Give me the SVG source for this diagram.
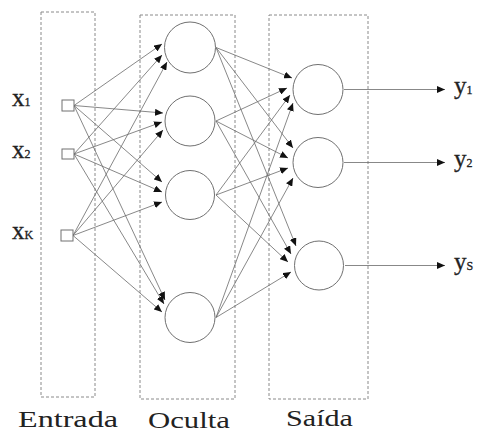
<svg xmlns="http://www.w3.org/2000/svg" width="480" height="432" viewBox="0 0 480 432">
<style>
.box{fill:none;stroke:#8a8a8a;stroke-width:1;stroke-dasharray:3,2}
.c{stroke:#6a6a6a;stroke-width:0.8;fill:none}
.node{fill:#fff;stroke:#707070;stroke-width:1}
.lbl{font-family:"Liberation Serif","Times New Roman",serif;fill:#222;stroke:#222;stroke-width:0.3}
.big{font-size:25px}
.sub{font-size:12px}
.cap{font-size:23px;stroke:none}
</style>
<defs>
<marker id="ah" markerWidth="8" markerHeight="7" refX="8" refY="3.5" orient="auto" markerUnits="userSpaceOnUse"><path d="M0,0 L8,3.5 L0,7 z" fill="#111"/></marker>
</defs>
<rect width="480" height="432" fill="#fff"/>
<g id="layers">
<rect class="box" x="41" y="12" width="54" height="385"/>
<rect class="box" x="140" y="15" width="95" height="384"/>
<rect class="box" x="269" y="15" width="99" height="384"/>
</g>
<g id="connectors">
<line class="c" x1="74" y1="105.5" x2="162" y2="44" marker-end="url(#ah)"/>
<line class="c" x1="74" y1="154" x2="162" y2="55" marker-end="url(#ah)"/>
<line class="c" x1="73" y1="235.5" x2="167" y2="62" marker-end="url(#ah)"/>
<line class="c" x1="74" y1="105.5" x2="163" y2="113" marker-end="url(#ah)"/>
<line class="c" x1="74" y1="154" x2="162" y2="122" marker-end="url(#ah)"/>
<line class="c" x1="73" y1="235.5" x2="163" y2="130" marker-end="url(#ah)"/>
<line class="c" x1="74" y1="105.5" x2="162" y2="182" marker-end="url(#ah)"/>
<line class="c" x1="74" y1="154" x2="162" y2="192" marker-end="url(#ah)"/>
<line class="c" x1="73" y1="235.5" x2="162" y2="202" marker-end="url(#ah)"/>
<line class="c" x1="74" y1="105.5" x2="165" y2="300" marker-end="url(#ah)"/>
<line class="c" x1="74" y1="154" x2="164" y2="304" marker-end="url(#ah)"/>
<line class="c" x1="73" y1="235.5" x2="162" y2="312" marker-end="url(#ah)"/>
<line class="c" x1="216" y1="47.5" x2="292" y2="78" marker-end="url(#ah)"/>
<line class="c" x1="216" y1="121" x2="287" y2="88" marker-end="url(#ah)"/>
<line class="c" x1="216" y1="195" x2="290" y2="95" marker-end="url(#ah)"/>
<line class="c" x1="216" y1="317.5" x2="293" y2="103" marker-end="url(#ah)"/>
<line class="c" x1="216" y1="47.5" x2="293" y2="148" marker-end="url(#ah)"/>
<line class="c" x1="216" y1="121" x2="288" y2="158" marker-end="url(#ah)"/>
<line class="c" x1="216" y1="195" x2="288" y2="168" marker-end="url(#ah)"/>
<line class="c" x1="216" y1="317.5" x2="293" y2="178" marker-end="url(#ah)"/>
<line class="c" x1="216" y1="47.5" x2="296" y2="246" marker-end="url(#ah)"/>
<line class="c" x1="216" y1="121" x2="291" y2="254" marker-end="url(#ah)"/>
<line class="c" x1="216" y1="195" x2="288" y2="262" marker-end="url(#ah)"/>
<line class="c" x1="216" y1="317.5" x2="291" y2="272" marker-end="url(#ah)"/>
<line class="c" x1="344" y1="89.5" x2="445" y2="89.5" marker-end="url(#ah)"/>
<line class="c" x1="344" y1="162.5" x2="445" y2="162.5" marker-end="url(#ah)"/>
<line class="c" x1="345" y1="265.5" x2="445" y2="265.5" marker-end="url(#ah)"/>
</g>
<g id="x1"><rect class="node" x="62" y="100" width="12" height="11"/><text class="lbl" x="12" y="106"><tspan class="big">x</tspan><tspan class="sub">1</tspan></text></g>
<g id="x2"><rect class="node" x="62" y="149" width="12" height="10"/><text class="lbl" x="12" y="158"><tspan class="big">x</tspan><tspan class="sub">2</tspan></text></g>
<g id="xK"><rect class="node" x="61" y="230" width="12" height="11"/><text class="lbl" x="12" y="239"><tspan class="big">x</tspan><tspan class="sub">K</tspan></text></g>
<g id="h1"><circle class="node" cx="190" cy="47.5" r="25.5"/></g>
<g id="h2"><circle class="node" cx="190" cy="121" r="25"/></g>
<g id="h3"><circle class="node" cx="190" cy="195" r="24.5"/></g>
<g id="h4"><circle class="node" cx="190" cy="317.5" r="25"/></g>
<g id="o1"><circle class="node" cx="318" cy="89.5" r="25"/></g>
<g id="o2"><circle class="node" cx="318" cy="162.5" r="25"/></g>
<g id="o3"><circle class="node" cx="319" cy="265.5" r="24.5"/></g>
<g id="y1"><text class="lbl" x="454" y="94"><tspan class="big">y</tspan><tspan class="sub">1</tspan></text></g>
<g id="y2"><text class="lbl" x="454" y="167"><tspan class="big">y</tspan><tspan class="sub">2</tspan></text></g>
<g id="ys"><text class="lbl" x="454" y="270"><tspan class="big">y</tspan><tspan class="sub">S</tspan></text></g>
<g id="titles">
<text class="lbl cap" x="18" y="427" textLength="100" lengthAdjust="spacingAndGlyphs">Entrada</text>
<text class="lbl cap" x="148" y="428" textLength="82" lengthAdjust="spacingAndGlyphs">Oculta</text>
<text class="lbl cap" x="286" y="426" textLength="67" lengthAdjust="spacingAndGlyphs">Saída</text>
</g>
</svg>
